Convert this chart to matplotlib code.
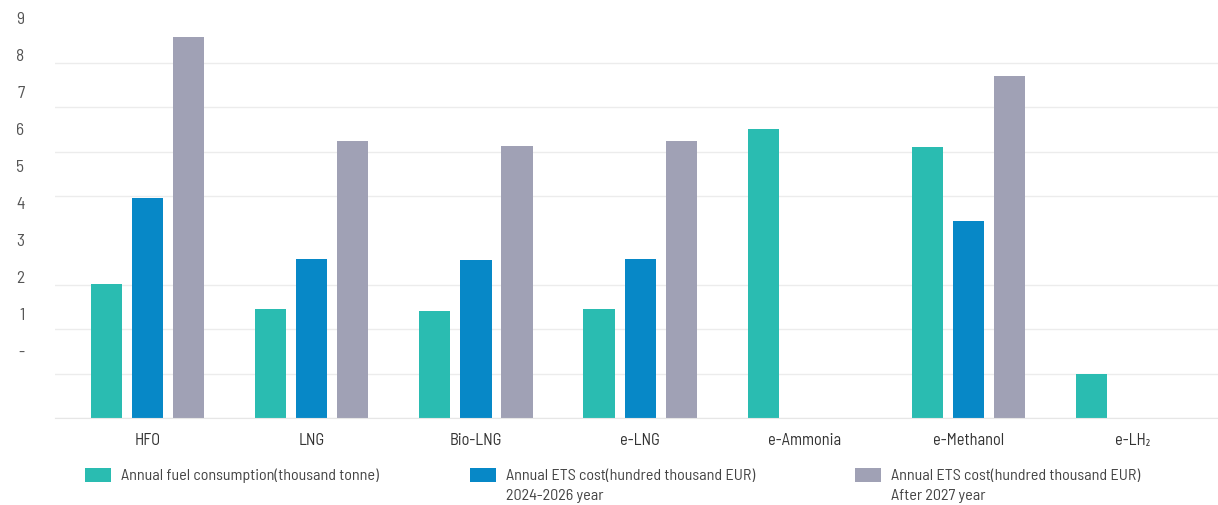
import matplotlib
matplotlib.use("Agg")
import matplotlib.pyplot as plt
from matplotlib.patches import Patch
import numpy as np

plt.rcParams['font.family'] = ['Barlow Semi Condensed', 'Asap Condensed', 'DejaVu Sans']

categories = ["HFO", "LNG", "Bio-LNG", "e-LNG", "e-Ammonia", "e-Methanol", "e-LH\u2082"]
fuel = [3.02, 2.45, 2.42, 2.45, 6.52, 6.10, 0.99]
ets_2024 = [4.95, 3.58, 3.56, 3.58, np.nan, 4.44, np.nan]
ets_2027 = [8.59, 6.25, 6.13, 6.25, np.nan, 7.71, np.nan]
series_labels = [
    "Annual fuel consumption(thousand tonne)",
    "Annual ETS cost(hundred thousand EUR)\n2024-2026 year",
    "Annual ETS cost(hundred thousand EUR)\nAfter 2027 year",
]
ytick_labels = ["9", "8", "7", "6", "5", "4", "3", "2", "1", "-"]
colors = ["#2abcb1", "#0788c7", "#a0a1b5"]

W, H = 1218, 505
fig = plt.figure(figsize=(W / 100, H / 100), dpi=100)
ax = fig.add_axes([55 / W, (H - 418) / H, 1 - 55 / W, (418 - 14) / H])

x = np.arange(len(categories))
bw = 0.19
off = 0.25
for i, (vals, c) in enumerate(zip([fuel, ets_2024, ets_2027], colors)):
    ax.bar(x + (i - 1) * off, vals, width=bw, color=c, zorder=3)

ax.set_xlim(-0.564, 6.52)
ax.set_ylim(0, 9.1)

ax.set_yticks(np.arange(0, 10), minor=True)
ax.grid(True, axis='y', which='minor', color='#ececec', linewidth=1.0, zorder=0)
ax.tick_params(axis='y', which='minor', length=0)

ypos = 9 - np.arange(len(ytick_labels)) * (37.0 / 44.4)
ax.set_yticks(ypos)
ax.set_yticklabels(ytick_labels)
ax.tick_params(axis='y', which='major', length=0, pad=22, labelsize=12.5, labelcolor='#555555')

ax.set_xticks(x)
ax.set_xticklabels(categories)
ax.tick_params(axis='x', length=0, pad=11, labelsize=11.8, labelcolor='#333333')

for s in ['top', 'right', 'left']:
    ax.spines[s].set_visible(False)
ax.spines['bottom'].set_color('#e6e6e6')
ax.spines['bottom'].set_zorder(4)

fs = 11.6
fs_px = fs * 100 / 72
leg_x = [85, 470, 855]
legends = []
for lx, lab, c in zip(leg_x, series_labels, colors):
    first = lab.split("\n")[0]
    leg = fig.legend(handles=[Patch(facecolor=c, edgecolor='none')], labels=[first],
                     loc='upper left', bbox_to_anchor=(lx / W, 1 - 468 / H),
                     bbox_transform=fig.transFigure, frameon=False,
                     borderpad=0, borderaxespad=0,
                     handlelength=26 / fs_px, handleheight=15 / fs_px,
                     handletextpad=10 / fs_px, fontsize=fs, labelcolor='#444444')
    legends.append((leg, lab))

fig.canvas.draw()
for leg, lab in legends:
    parts = lab.split("\n")
    if len(parts) > 1:
        t = leg.get_texts()[0]
        bb = t.get_window_extent()
        tx, ty = fig.transFigure.inverted().transform((bb.x0, (bb.y0 + bb.y1) / 2 - 20))
        fig.text(tx, ty, parts[1], fontsize=fs, color='#444444', ha='left', va='center')

fig.savefig("out.png", dpi=100, facecolor='white')
